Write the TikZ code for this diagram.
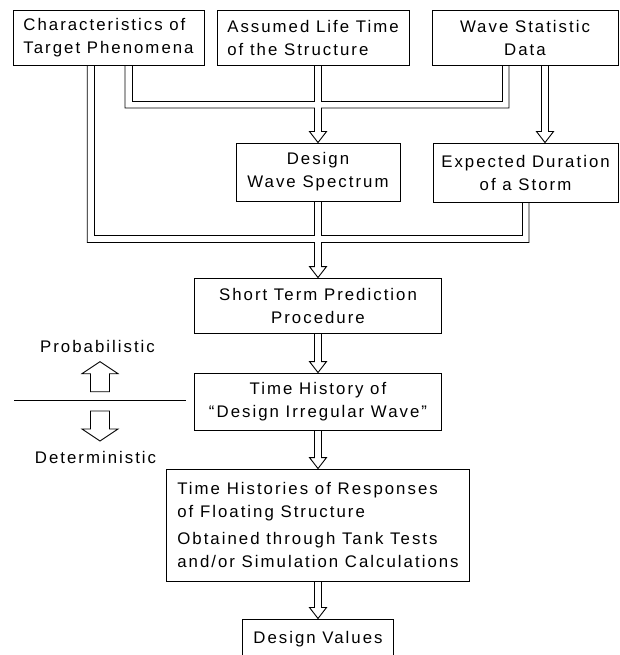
\documentclass[tikz,border=0pt]{standalone}
\usepackage{fontspec}
\setmainfont{Liberation Sans}[LetterSpace=12]

\begin{document}
\begin{tikzpicture}[x=1pt,y=-1pt,line width=0.9pt,line join=miter]
        \tikzstyle{box}=[draw,inner sep=0pt,align=center,minimum height=55pt,font=\fontsize{16.8}{23}\selectfont]
        \tikzstyle{lbl}=[font=\fontsize{16.8}{23}\selectfont,anchor=base]
        % open block-arrow head of a pipe, tip at #1
        \tikzset{pipehead/.style={insert path={-- ([shift={(-3.5pt,11pt)}]#1) -- ([shift={(-8.5pt,11pt)}]#1) -- (#1)
            -- ([shift={(8.5pt,11pt)}]#1) -- ([shift={(3.5pt,11pt)}]#1)}}}
        \useasboundingbox (0,0) rectangle (619,655);

        % Input data
        \node[box,align=left,minimum width=191pt] (ph) at (108.5,37.5) {Characteristics of\\Target Phenomena};
        \node[box,align=left,minimum width=192pt] (life) at (313,37.5) {Assumed Life Time\\of the Structure};
        \node[box,minimum width=186pt] (wsd) at (525,37.5) {Wave Statistic\\Data};

        % Second row
        \node[box,minimum width=164pt,minimum height=58pt] (spec) at (318,172) {Design\\Wave Spectrum};
        \node[box,minimum width=185pt,minimum height=59pt] (storm) at (525.5,172.5) {Expected Duration\\of a Storm};

        % Main chain
        \node[box,minimum width=247pt] (stp) at (318,305.5) {Short Term Prediction\\Procedure};
        \node[box,minimum width=247pt,minimum height=57pt] (dirw) at (318,401.5) {Time History of\\“Design Irregular Wave”};
        \node[box,align=left,minimum width=303pt,minimum height=112pt] (resp) at (318,525)
            {Time Histories of Responses\\of Floating Structure\\[4pt]Obtained through Tank Tests\\and/or Simulation Calculations};
        \node[box,minimum width=151pt,minimum height=41.3pt] (dval) at (318,639.6) {Design Values};

        % Pipe ends, junctions and corners
        \coordinate (ph1) at ([xshift=-17.8pt]ph.south);
        \coordinate (ph2) at ([xshift=20pt]ph.south);
        \coordinate (ws1) at ([xshift=-19.5pt]wsd.south);
        \coordinate (ws2) at ([xshift=20pt]wsd.south);
        \coordinate (c0) at (life.south -| spec.north);
        \coordinate (t2) at (ws2 |- storm.north);
        \coordinate (j1) at (318,104.5);
        \coordinate (j2) at (318,239);
        \coordinate (k1) at (ph2 |- j1);
        \coordinate (k2) at (ws1 |- j1);
        \coordinate (k3) at (ph1 |- j2);
        \coordinate (k4) at (storm.south |- j2);

        % Upper pipe network into the wave spectrum
        \draw ([xshift=3.5pt]ph2) -- ([shift={(3.5pt,3.5pt)}]k1) -- ([shift={(-3.5pt,3.5pt)}]j1) -- ([xshift=-3.5pt]c0);
        \draw ([xshift=3.5pt]c0) -- ([shift={(3.5pt,3.5pt)}]j1) -- ([shift={(-3.5pt,3.5pt)}]k2) -- ([xshift=-3.5pt]ws1);
        \draw ([xshift=-3.5pt]ph2) -- ([shift={(-3.5pt,-3.5pt)}]k1) -- ([shift={(-3.5pt,-3.5pt)}]j1) [pipehead=spec.north]
            -- ([shift={(3.5pt,-3.5pt)}]j1) -- ([shift={(3.5pt,-3.5pt)}]k2) -- ([xshift=3.5pt]ws1);

        % Lower pipe network into the short term prediction
        \draw ([xshift=3.5pt]ph1) -- ([shift={(3.5pt,3.5pt)}]k3) -- ([shift={(-3.5pt,3.5pt)}]j2) -- ([xshift=-3.5pt]spec.south);
        \draw ([xshift=3.5pt]spec.south) -- ([shift={(3.5pt,3.5pt)}]j2) -- ([shift={(-3.5pt,3.5pt)}]k4) -- ([xshift=-3.5pt]storm.south);
        \draw ([xshift=-3.5pt]ph1) -- ([shift={(-3.5pt,-3.5pt)}]k3) -- ([shift={(-3.5pt,-3.5pt)}]j2) [pipehead=stp.north]
            -- ([shift={(3.5pt,-3.5pt)}]j2) -- ([shift={(3.5pt,-3.5pt)}]k4) -- ([xshift=3.5pt]storm.south);

        % Straight pipes
        \draw ([xshift=-3.5pt]ws2) [pipehead=t2] -- ([xshift=3.5pt]ws2);
        \draw ([xshift=-3.5pt]stp.south) [pipehead=dirw.north] -- ([xshift=3.5pt]stp.south);
        \draw ([xshift=-3.5pt]dirw.south) [pipehead=resp.north] -- ([xshift=3.5pt]dirw.south);
        \draw ([xshift=-3.5pt]resp.south) [pipehead=dval.north] -- ([xshift=3.5pt]resp.south);

        % Probabilistic / deterministic divide
        \node[lbl] (prob) at (97.5,352) {Probabilistic};
        \node[lbl] (det) at (95.5,463) {Deterministic};
        \draw (14,400.7) -- (186,400.7);
        \foreach \b/\d in {391.7/-1,411/1}
            \draw (90.5,\b) -- ++(0,18*\d) -- ++(-8.5,0) -- ++(18,12*\d) -- ++(18,-12*\d) -- ++(-8.5,0) -- ++(0,-18*\d) -- cycle;
\end{tikzpicture}
\end{document}
